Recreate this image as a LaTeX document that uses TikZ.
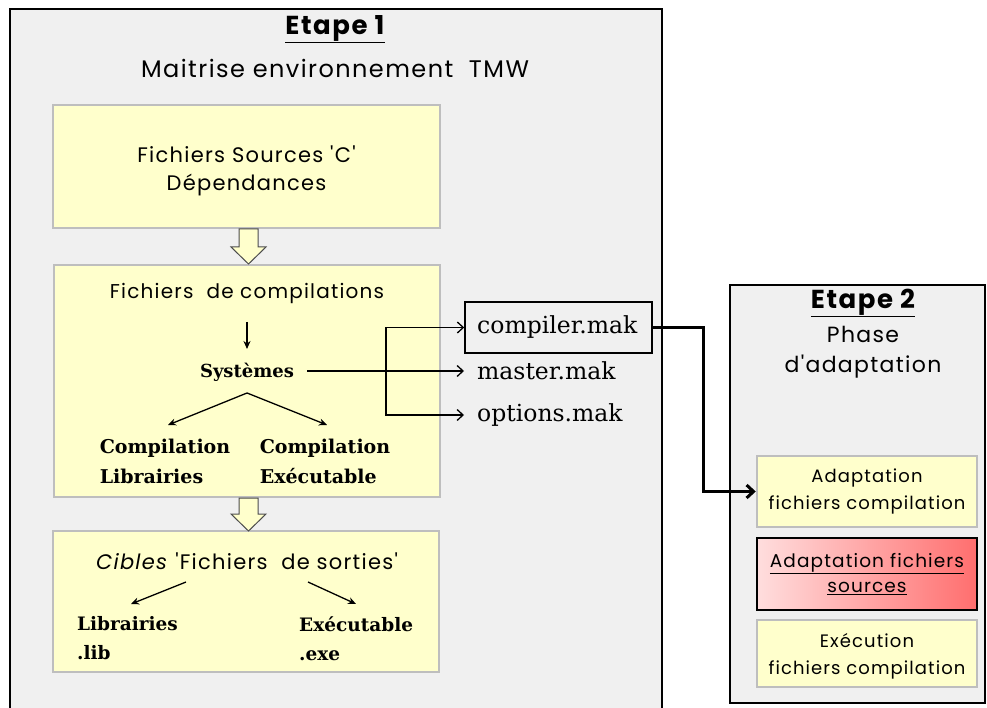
\documentclass[tikz,border=0pt]{standalone}
\usepackage{fontspec}
\setmainfont{DejaVu Serif}
\newfontfamily\comic[LetterSpace=6]{Poppins}
\usetikzlibrary{arrows.meta}
\definecolor{stagebg}{RGB}{240,240,240}
\definecolor{yel}{RGB}{255,255,204}
\definecolor{ygrey}{RGB}{190,190,190}
\definecolor{pinkl}{RGB}{255,222,222}
\definecolor{pinkr}{RGB}{255,110,110}
\begin{document}
\begin{tikzpicture}[x=1pt,y=-1pt,
  stage/.style={draw=black,line width=2.5pt,fill=stagebg},
  ybox/.style={draw=ygrey,line width=2.5pt,fill=yel,inner sep=0pt},
  ctext/.style={font=\comic\fontsize{21}{28}\selectfont,align=center,inner sep=0pt},
  etext/.style={font=\comic\fontsize{18}{27}\selectfont,align=center,inner sep=0pt},
  ttl/.style={font=\comic\fontsize{24}{30}\selectfont,align=center,inner sep=0pt},
  stext/.style={font=\fontsize{19}{30}\selectfont\bfseries,align=left,inner sep=0pt},
  mtext/.style={font=\fontsize{23.5}{26}\selectfont,inner sep=0pt,inner xsep=13pt,anchor=west},
  conn/.style={draw=black,line width=1.3pt,-{Stealth[length=8pt,width=7pt]}},
  barb/.style={draw=black,line width=1.3pt,-{Straight Barb[length=6pt,width=11pt]}},
  hollow/.style={draw=black!70,line width=1pt,fill=yel,line join=miter}]
\useasboundingbox (0,0) rectangle (987,708);
\fill[white] (0,0) rectangle (987,708);
\begin{scope}
\clip (0,0) rectangle (987,708);
\draw[stage] (10,9) rectangle (662,730);
\end{scope}
\draw[stage] (730,285) rectangle (985,703);

% Etape 1 titles
\node[ttl,font=\comic\fontsize{26}{30}\selectfont] (t1) at (335,29) {\textbf{\underline{Etape 1}}};
\node[ttl] (t1b) at (335,68) {Maitrise environnement\ \ TMW};

% yellow boxes
\node[ybox,minimum width=387pt,minimum height=123pt] (b1) at (246.5,166.5) {};
\node[ctext] (src) at (246.5,171) {Fichiers Sources 'C'\\Dépendances};

\node[ybox,minimum width=386pt,minimum height=232pt] (b2) at (247,381) {};
\node[ctext,font=\comic\fontsize{20}{24}\selectfont] (fc) at (247,293) {Fichiers\ \ de compilations};
\node[stext,font=\fontsize{18}{20}\selectfont\bfseries] (sys) at (247,372) {Systèmes};
\node[stext] (cl) at (165,461) {Compilation\\Librairies};
\node[stext] (ce) at (325,461) {Compilation\\Exécutable};
\coordinate (apex) at (247,393);
\coordinate (fcd) at (247,322);
\coordinate (sysu) at (247,349);
\draw[conn] (fcd) -- (sysu);
\draw[conn] (apex) -- (168,425);
\draw[conn] (apex) -- (327,425);

\node[ybox,minimum width=386pt,minimum height=141pt] (b3) at (246,601.5) {};
\node[ctext] (cib) at (247,561) {\textit{Cibles} 'Fichiers\ \ de sorties'};
\node[stext,font=\fontsize{18.5}{29}\selectfont\bfseries,anchor=west] (lib) at (77,638.5) {Librairies\\.lib};
\node[stext,font=\fontsize{18.5}{29}\selectfont\bfseries,anchor=west] (exe) at (299,638.5) {Exécutable\\.exe};
\draw[conn] (186,582) -- (131,604);
\draw[conn] (308,582) -- (356,604);

% hollow arrows
\draw[hollow] (239,229) -- (258,229) -- (258,247) -- (266,247) -- (248.5,264) -- (231,247) -- (239,247) -- cycle;
\draw[hollow] (239,498) -- (258,498) -- (258,514) -- (266,514) -- (248.5,531) -- (231,514) -- (239,514) -- cycle;

% mak files
\node[draw=black,line width=1.5pt,fill=stagebg,minimum width=187pt,minimum height=51pt,inner sep=0pt] (comp) at (558.5,327.5) {};
\node[mtext] (compt) at (464,327) {compiler.mak};
\node[mtext] (mast) at (464,371) {master.mak};
\node[mtext] (opt) at (464,415) {options.mak};
\coordinate (split) at (386,371);
\coordinate (syse) at (307,371);
\draw[barb] (syse) -- (mast.west);
\draw[barb] (split) |- (comp.west);
\draw[barb] (split) |- (opt.west);

% Etape 2
\node[ttl,font=\comic\fontsize{26}{30}\selectfont] (t2) at (863,303) {\textbf{\underline{Etape 2}}};
\node[ttl,font=\comic\fontsize{22}{30}\selectfont] (t2b) at (863,352) {Phase\\d'adaptation};
\node[ybox,minimum width=220pt,minimum height=71pt] (a) at (867,491.5) {};
\node[etext] (at) at (867,491.5) {Adaptation\\fichiers compilation};
\node[draw=black,line width=2.5pt,left color=pinkl,right color=pinkr,minimum width=220pt,minimum height=72pt,inner sep=0pt] (b) at (867,574) {};
\node[etext,font=\comic\fontsize{18.5}{25}\selectfont] (bt) at (867,574) {\underline{Adaptation fichiers}\\\underline{sources}};
\node[ybox,minimum width=220pt,minimum height=67pt] (c) at (867,653.5) {};
\node[etext] (ct) at (867,656) {Exécution\\fichiers compilation};

\draw[draw=black,line width=3pt,-{Straight Barb[length=7pt,width=13pt]}] (comp.east) -- (703,327.5) |- (a.west);
\end{tikzpicture}
\end{document}
